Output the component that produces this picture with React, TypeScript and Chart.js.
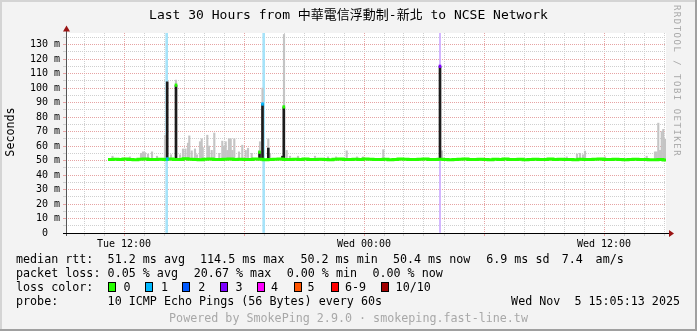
import React, { useEffect, useRef } from 'react';
import { Chart, registerables } from 'chart.js';

Chart.register(...registerables);

const MONO = "'DejaVu Sans Mono', 'Noto Sans CJK TC', monospace";

// ---- axes (hours since Tue 00:00) ----
const xMin = 9.1;
const xMax = 39.1;
const hourTicks = [10, 11, 12, 13, 14, 15, 16, 17, 18, 19, 20, 21, 22, 23, 24, 25, 26, 27, 28, 29, 30, 31, 32, 33, 34, 35, 36, 37, 38, 39];
const xLabelHours = [12, 24, 36];
const xLabelTexts = ['Tue 12:00', 'Wed 00:00', 'Wed 12:00'];
const yMax = 138;
const yTicks = [0, 5, 10, 15, 20, 25, 30, 35, 40, 45, 50, 55, 60, 65, 70, 75, 80, 85, 90, 95, 100, 105, 110, 115, 120, 125, 130, 135];

// ---- median rtt band (ms), one value every 15 minutes from 11:12 ----
const medianStart = 11.2;
const medianStep = 0.25;
const medianValues = [
  50.8, 50.9, 50.7, 51.0, 50.8, 50.6, 50.9, 51.1, 50.8, 50.7,
  50.9, 50.8, 51.0, 50.7, 50.8, 51.2, 50.9, 50.8, 50.6, 50.9,
  51.0, 50.8, 50.7, 50.9, 51.1, 50.8, 50.9, 50.7, 50.8, 51.0,
  50.9, 50.6, 50.8, 50.9, 51.0, 50.8, 50.7, 50.9, 50.8, 51.1,
  50.8, 50.7, 50.9, 50.8, 50.6, 50.9, 51.0, 50.8, 50.7, 50.9,
  50.8, 51.0, 50.9, 50.7, 50.8, 50.9, 50.6, 50.8, 51.0, 50.9,
  50.7, 50.8, 50.9, 51.1, 50.8, 50.7, 50.9, 50.8, 50.6, 50.8,
  50.9, 51.0, 50.8, 50.7, 50.9, 50.8, 50.6, 50.9, 50.8, 51.0,
  50.7, 50.8, 50.9, 50.6, 50.8, 50.9, 50.7, 50.8, 51.0, 50.8,
  50.9, 50.7, 50.8, 50.6, 50.9, 50.8, 50.7, 50.9, 51.0, 50.8,
  50.7, 50.9, 50.8, 50.6, 50.8, 50.9, 50.7, 50.8, 50.6, 50.5,
  50.7, 50.4, 50.4,
];

// ---- smoke (light grey), low = smokeBase ----
const smokeBase = 51;
const smokeHours = [
  11.425, 12.3, 12.85, 12.95, 13.05, 13.2, 13.4, 13.65, 14.05, 14.35, 14.6,
  14.8, 14.95, 15.075, 15.2, 15.265, 15.385, 15.55, 15.65, 15.8, 15.885, 15.935,
  16.165, 16.25, 16.385, 16.515, 16.765, 16.915, 17.0, 17.085, 17.165, 17.25,
  17.335, 17.415, 17.515, 17.75, 17.915, 18.085, 18.2, 18.385, 18.8, 18.925,
  19.215, 19.3, 20.0, 20.135, 20.3, 20.7, 21.55, 22.2, 22.6, 23.135, 23.65,
  23.95, 24.965, 27.9, 34.135, 34.65, 34.8, 34.95, 35.05, 36.05, 38.135,
  38.55, 38.635, 38.715, 38.8, 38.885, 38.965, 39.05,
];
const smokeHigh = [
  53, 52.5, 55, 56, 55.5, 54.5, 56, 53, 67.5, 54, 105.5,
  54, 58, 58, 62, 67, 56.7, 58, 54, 63, 65, 59,
  67.5, 60, 57, 69, 55, 63.4, 60, 63, 57, 65,
  65, 57, 65, 56, 60.6, 57, 58.5, 55, 63, 100,
  65, 55, 137, 57, 53, 53, 53, 52.5, 52.5, 56.7, 52.5,
  52.5, 57.5, 56.7, 52.5, 54.5, 55, 54, 56.5, 52.5, 53,
  56, 56, 75.8, 57, 70, 71.5, 64.8,
];

// ---- dense smoke spikes (black) ----
const spikeHours = [14.16, 14.6, 18.775, 18.925, 19.215, 19.925, 19.99, 27.8];
const spikeLow = [50.5, 51, 51, 51, 51, 51, 51, 51];
const spikeHigh = [104.3, 102, 56, 89, 58.6, 53, 87, 115];

// ---- median colour marks at the spikes (loss colour) ----
const markerHours = [14.16, 14.6, 18.775, 18.925, 19.99, 27.8];
const markerValues = [51, 102, 55.8, 89, 87, 115];
const markerLoss = [1, 0, 0, 1, 0, 3];

// ---- packet loss periods ----
const lossOneHours = [14.135, 18.985];
const lossThreeHours = [27.8];

// ---- legend ----
const lossLabels = ['0', '1', '2', '3', '4', '5', '6-9', '10/10'];
const lossColors = ['#26ff00', '#00b8ff', '#0059ff', '#7e00ff', '#ff00ff', '#ff5500', '#ff0000', '#a10000'];
const medianRow = ['median rtt:', '51.2 ms avg', '114.5 ms max', '50.2 ms min', '50.4 ms now', '6.9 ms sd', '7.4', 'am/s'];
const lossRow = ['packet loss:', '0.05 % avg', '20.67 % max', '0.00 % min', '0.00 % now'];
const probeRow = ['probe:', '10 ICMP Echo Pings (56 Bytes) every 60s'];
const dateText = 'Wed Nov  5 15:05:13 2025';
const titleText = 'Last 30 Hours from 中華電信浮動制-新北 to NCSE Network';
const footerText = 'Powered by SmokePing 2.9.0 · smokeping.fast-line.tw';

// layout (pixels)
const medianRowX = [16, 107.6, 200, 300.4, 392.9, 486.2, 561.8, 595.6];
const lossRowX = [16, 107.6, 193.8, 286.7, 372.4];
const lossSquareX = [108.4, 144.9, 182.2, 219.6, 256.9, 294.2, 330.7, 381.3];
const lossLabelX = [123.6, 160.9, 198.2, 235.6, 271.1, 307.6, 344.9, 395.6];
const probeRowX = [16, 107.6];

const RED = '#e6a3a3';
const GREY = '#cfcfcf';

const plotBg = {
  id: 'plotBg',
  beforeDraw(chart: any) {
    const { ctx, chartArea: a } = chart;
    ctx.save();
    ctx.fillStyle = '#ffffff';
    ctx.fillRect(a.left, a.top, a.right - a.left, a.bottom - a.top);
    ctx.restore();
  },
};

const axesPlugin = {
  id: 'axesArrows',
  afterDraw(chart: any) {
    const { ctx, chartArea: a } = chart;
    ctx.save();
    ctx.lineWidth = 1;
    ctx.strokeStyle = '#555555';
    ctx.beginPath();
    ctx.moveTo(a.left + 0.5, a.bottom + 3);
    ctx.lineTo(a.left + 0.5, a.top - 3);
    ctx.stroke();
    ctx.strokeStyle = '#000000';
    ctx.beginPath();
    ctx.moveTo(a.left - 3, a.bottom + 0.5);
    ctx.lineTo(a.right + 3, a.bottom + 0.5);
    ctx.stroke();
    ctx.fillStyle = '#9a1414';
    ctx.beginPath();
    ctx.moveTo(a.left + 0.5, a.top - 7.5);
    ctx.lineTo(a.left + 4, a.top - 1.5);
    ctx.lineTo(a.left - 3, a.top - 1.5);
    ctx.closePath();
    ctx.fill();
    ctx.beginPath();
    ctx.moveTo(a.right + 8, a.bottom + 0.5);
    ctx.lineTo(a.right + 3, a.bottom - 3);
    ctx.lineTo(a.right + 3, a.bottom + 4);
    ctx.closePath();
    ctx.fill();
    ctx.restore();
  },
};

function Txt(props: { x: number; y: number; text: string; size?: number; color?: string }) {
  const size = props.size ?? 11.7;
  return (
    <div
      style={{
        position: 'absolute',
        left: props.x,
        top: props.y - 7,
        height: 14,
        lineHeight: '14px',
        fontFamily: MONO,
        fontSize: size,
        whiteSpace: 'pre',
        color: props.color ?? '#000',
      }}
    >
      {props.text}
    </div>
  );
}

export default function App() {
  const ref = useRef<HTMLCanvasElement | null>(null);

  useEffect(() => {
    document.body.style.margin = '0';
    const canvas = ref.current;
    if (!canvas) return;
    const lineColor = (c: any) => {
      const v = c.tick ? c.tick.value : 0;
      return v % 6 === 0 ? RED : GREY;
    };
    const yLineColor = (c: any) => {
      const v = c.tick ? c.tick.value : 0;
      return v % 10 === 0 ? RED : GREY;
    };
    const chart = new Chart(canvas, {
      type: 'bar',
      data: {
        datasets: [
          {
            type: 'bar',
            label: 'median loss colour',
            data: markerHours.map((h, i) => ({ x: h, y: [markerValues[i] - 0.9, markerValues[i] + 0.9] })) as any,
            backgroundColor: markerLoss.map((l) => lossColors[l]),
            barThickness: 2,
            grouped: false,
          } as any,
          {
            type: 'line',
            label: 'median rtt',
            data: medianValues.map((v, i) => ({ x: medianStart + i * medianStep, y: v })),
            borderColor: '#26ff00',
            borderWidth: 3,
            pointRadius: 0,
            stepped: true,
          } as any,
          {
            type: 'bar',
            label: 'dense smoke',
            data: spikeHours.map((h, i) => ({ x: h, y: [spikeLow[i], spikeHigh[i]] })) as any,
            backgroundColor: '#1c1c1c',
            barThickness: 2,
            grouped: false,
          } as any,
          {
            type: 'bar',
            label: 'smoke',
            data: smokeHours.map((h, i) => ({ x: h, y: [smokeBase, smokeHigh[i]] })) as any,
            backgroundColor: '#c4c4c4',
            barThickness: 1.5,
            grouped: false,
          } as any,
          {
            type: 'bar',
            label: 'loss 1',
            data: lossOneHours.map((h) => ({ x: h, y: [0, yMax] })) as any,
            backgroundColor: '#a6e3f9',
            barThickness: 2,
            grouped: false,
          } as any,
          {
            type: 'bar',
            label: 'loss 3',
            data: lossThreeHours.map((h) => ({ x: h, y: [0, yMax] })) as any,
            backgroundColor: '#cbaaff',
            barThickness: 1,
            grouped: false,
          } as any,
        ],
      },
      options: {
        responsive: false,
        animation: false,
        devicePixelRatio: 1,
        events: [],
        layout: { padding: { top: 33, right: 31, left: 0, bottom: 0 } },
        plugins: {
          legend: { display: false },
          tooltip: { enabled: false },
          title: { display: false },
        },
        scales: {
          x: {
            type: 'linear',
            min: xMin,
            max: xMax,
            offset: false,
            afterBuildTicks: (s: any) => {
              s.ticks = hourTicks.map((v) => ({ value: v }));
            },
            afterFit: (s: any) => {
              s.height = 98;
            },
            grid: { offset: false, color: lineColor, tickColor: lineColor, lineWidth: 1, tickLength: 3 },
            border: { display: false, dash: [1, 1] },
            ticks: {
              autoSkip: false,
              maxRotation: 0,
              minRotation: 0,
              padding: 2,
              color: '#000',
              font: { family: MONO, size: 10 },
              callback: (v: any) => {
                const i = xLabelHours.indexOf(Number(v));
                return i >= 0 ? xLabelTexts[i] : '';
              },
            },
          },
          y: {
            type: 'linear',
            min: 0,
            max: yMax,
            afterBuildTicks: (s: any) => {
              s.ticks = yTicks.map((v) => ({ value: v }));
            },
            afterFit: (s: any) => {
              s.width = 66;
            },
            grid: { color: yLineColor, tickColor: yLineColor, lineWidth: 1, tickLength: 3 },
            border: { display: false, dash: [1, 1] },
            ticks: {
              autoSkip: false,
              padding: 3,
              color: '#000',
              font: { family: MONO, size: 10 },
              callback: (v: any) => {
                const n = Number(v);
                if (n % 10 !== 0) return '';
                return n === 0 ? '0  ' : n + ' m';
              },
            },
          },
        },
      } as any,
      plugins: [plotBg, axesPlugin],
    });
    return () => chart.destroy();
  }, []);

  return (
    <div style={{ position: 'relative', width: 697, height: 331, background: '#f3f3f3', overflow: 'hidden' }}>
      <canvas ref={ref} width={697} height={331} style={{ position: 'absolute', left: 0, top: 0, width: 697, height: 331 }} />
      <div
        style={{
          position: 'absolute',
          left: 0,
          top: 7,
          width: 697,
          textAlign: 'center',
          lineHeight: '16px',
          fontFamily: MONO,
          fontSize: 13,
          whiteSpace: 'pre',
          color: '#000',
        }}
      >
        {titleText}
      </div>
      <div
        style={{
          position: 'absolute',
          left: 10 - 50,
          top: 132 - 7,
          width: 100,
          height: 14,
          lineHeight: '14px',
          textAlign: 'center',
          fontFamily: MONO,
          fontSize: 11.7,
          transform: 'rotate(-90deg)',
          color: '#000',
        }}
      >
        Seconds
      </div>
      <div
        style={{
          position: 'absolute',
          left: 677 - 90,
          top: 81 - 6,
          width: 180,
          height: 12,
          lineHeight: '12px',
          textAlign: 'center',
          fontFamily: MONO,
          fontSize: 9,
          letterSpacing: '1.5px',
          transform: 'rotate(90deg)',
          color: '#a8a8a8',
          whiteSpace: 'pre',
        }}
      >
        RRDTOOL / TOBI OETIKER
      </div>
      {medianRow.map((t, i) => (
        <Txt key={'m' + i} x={medianRowX[i]} y={259} text={t} />
      ))}
      {lossRow.map((t, i) => (
        <Txt key={'l' + i} x={lossRowX[i]} y={273} text={t} />
      ))}
      <Txt x={16} y={287} text="loss color:" />
      {lossLabels.map((t, i) => (
        <React.Fragment key={'c' + i}>
          <div
            style={{
              position: 'absolute',
              left: lossSquareX[i],
              top: 282,
              width: 8,
              height: 10,
              boxSizing: 'border-box',
              border: '1px solid #000',
              background: lossColors[i],
            }}
          />
          <Txt x={lossLabelX[i]} y={287} text={t} />
        </React.Fragment>
      ))}
      {probeRow.map((t, i) => (
        <Txt key={'p' + i} x={probeRowX[i]} y={301} text={t} />
      ))}
      <div
        style={{
          position: 'absolute',
          right: 697 - 680,
          top: 301 - 7,
          lineHeight: '14px',
          fontFamily: MONO,
          fontSize: 11.7,
          whiteSpace: 'pre',
          color: '#000',
        }}
      >
        {dateText}
      </div>
      <div
        style={{
          position: 'absolute',
          left: 0,
          top: 318 - 7,
          width: 697,
          textAlign: 'center',
          lineHeight: '14px',
          fontFamily: MONO,
          fontSize: 11.7,
          whiteSpace: 'pre',
          color: '#a8a8a8',
        }}
      >
        {footerText}
      </div>
      <div style={{ position: 'absolute', left: 0, top: 0, width: 697, height: 2, background: '#d4d4d4' }} />
      <div style={{ position: 'absolute', left: 0, top: 0, width: 2, height: 331, background: '#d4d4d4' }} />
      <div style={{ position: 'absolute', left: 0, top: 329, width: 697, height: 2, background: '#a0a0a0' }} />
      <div style={{ position: 'absolute', left: 695, top: 0, width: 2, height: 331, background: '#a0a0a0' }} />
    </div>
  );
}
